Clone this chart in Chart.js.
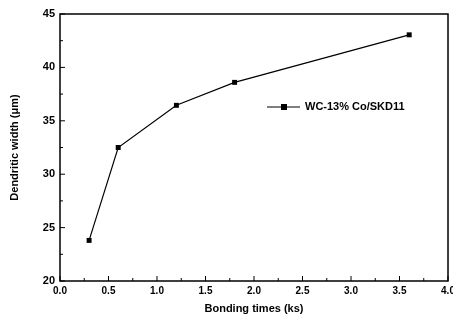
<!DOCTYPE html>
<html>
<head>
<meta charset="utf-8">
<script src="https://cdn.jsdelivr.net/npm/chart.js@4/dist/chart.umd.min.js"></script>
<style>
  html, body { margin: 0; padding: 0; background: #fff; }
  #wrap { width: 453px; height: 320px; }
</style>
</head>
<body>
<div id="wrap"><canvas id="chart"></canvas></div>
<script>
// data
const bondingTimes = [0.3, 0.6, 1.2, 1.8, 3.6];
const dendriticWidth = [23.8, 32.5, 36.45, 38.6, 43.05];
const seriesLabel = 'WC-13% Co/SKD11';
const xTitle = 'Bonding times (ks)';
const yTitle = 'Dendritic width (\u03bcm)';

const FONT = 'Liberation Sans, Arial, sans-serif';

// frame + inward ticks + legend
const framePlugin = {
    id: 'frame',
    afterDraw(chart) {
        const { ctx, chartArea: a, scales } = chart;
        ctx.save();
        ctx.strokeStyle = '#000';
        ctx.lineWidth = 1.5;
        ctx.strokeRect(a.left, a.top, a.right - a.left, a.bottom - a.top);

        ctx.lineWidth = 1;
        ctx.beginPath();
        for (let v = 0; v <= 4.0001; v += 0.25) {
            const x = scales.x.getPixelForValue(v);
            const major = Math.abs(v * 2 - Math.round(v * 2)) < 1e-6;
            const len = major ? 5 : 3;
            ctx.moveTo(x, a.bottom);
            ctx.lineTo(x, a.bottom - len);
        }
        for (let v = 20; v <= 45.001; v += 2.5) {
            const y = scales.y.getPixelForValue(v);
            const major = Math.abs(v / 5 - Math.round(v / 5)) < 1e-6;
            const len = major ? 5 : 3;
            ctx.moveTo(a.left, y);
            ctx.lineTo(a.left + len, y);
        }
        ctx.stroke();

        // legend
        const lx = 267, ly = 107;
        ctx.beginPath();
        ctx.moveTo(lx, ly);
        ctx.lineTo(lx + 33, ly);
        ctx.stroke();
        ctx.fillStyle = '#000';
        ctx.fillRect(lx + 14, ly - 3, 6, 6);
        ctx.font = 'bold 11px ' + FONT;
        ctx.textBaseline = 'middle';
        ctx.textAlign = 'left';
        ctx.fillText(seriesLabel, lx + 38, ly);
        ctx.restore();
    }
};

new Chart(document.getElementById('chart'), {
    type: 'line',
    data: {
        datasets: [{
            label: seriesLabel,
            data: bondingTimes.map((t, i) => ({ x: t, y: dendriticWidth[i] })),
            borderColor: '#000',
            backgroundColor: '#000',
            borderWidth: 1.2,
            pointStyle: 'rect',
            pointRadius: 3.5,
            pointBorderWidth: 0,
            tension: 0,
        }]
    },
    options: {
        responsive: true,
        maintainAspectRatio: false,
        animation: false,
        layout: { padding: { top: 14, right: 5, left: 4, bottom: 0 } },
        plugins: {
            legend: { display: false },
            tooltip: { enabled: false },
        },
        scales: {
            x: {
                type: 'linear',
                min: 0,
                max: 4,
                grid: { display: false, drawTicks: false },
                border: { display: false },
                ticks: {
                    stepSize: 0.5,
                    padding: 4,
                    color: '#000',
                    font: { family: FONT, size: 10, weight: 'bold' },
                    callback: v => v.toFixed(1),
                },
                title: {
                    display: true,
                    text: xTitle,
                    color: '#000',
                    font: { family: FONT, size: 11, weight: 'bold' },
                    padding: { top: 6 },
                },
                afterFit(scale) {
                    scale.height = 39;
                    scale.paddingLeft = 0;
                    scale.paddingRight = 0;
                },
            },
            y: {
                min: 20,
                max: 45,
                grid: { display: false, drawTicks: false },
                border: { display: false },
                ticks: {
                    stepSize: 5,
                    padding: 5,
                    color: '#000',
                    font: { family: FONT, size: 11, weight: 'bold' },
                },
                title: {
                    display: true,
                    text: yTitle,
                    color: '#000',
                    font: { family: FONT, size: 11, weight: 'bold' },
                },
                afterFit(scale) {
                    scale.width = 56;
                    scale.paddingTop = 0;
                    scale.paddingBottom = 0;
                },
            }
        }
    },
    plugins: [framePlugin]
});
</script>
</body>
</html>
